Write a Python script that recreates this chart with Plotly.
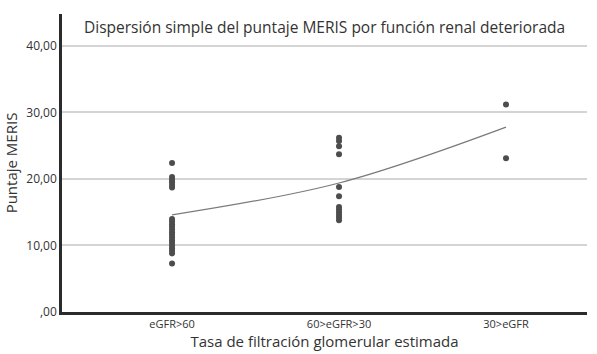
import plotly.graph_objects as go

# Grupos de función renal (eje X categórico)
categorias = ["eGFR>60", "60>eGFR>30", "30>eGFR"]

# Puntaje MERIS por grupo
meris_egfr_mayor60 = [22.4, 20.3, 19.9, 19.5, 19.1, 18.7,
                      14.0, 13.6, 13.2, 12.8, 12.4, 12.0, 11.6, 11.2,
                      10.8, 10.4, 10.0, 9.6, 9.2, 8.8, 7.3]
meris_egfr_60_30 = [26.2, 25.7, 24.9, 23.7, 18.8, 17.4,
                    15.8, 15.4, 15.0, 14.6, 14.2, 13.8]
meris_egfr_menor30 = [31.2, 23.1]

# Curva de ajuste evaluada en cada grupo
ajuste = [14.6, 19.4, 27.8]

yticks = [0, 10, 20, 30, 40]
ytick_labels = [",00", "10,00", "20,00", "30,00", "40,00"]

FONT = "Open Sans"
grupos = [meris_egfr_mayor60, meris_egfr_60_30, meris_egfr_menor30]

fig = go.Figure()
for i, vals in enumerate(grupos):
    fig.add_trace(go.Scatter(
        x=[i] * len(vals), y=vals, mode="markers",
        marker=dict(size=6, color="#4d4d4d"),
        showlegend=False, hoverinfo="y"))

fig.add_trace(go.Scatter(
    x=[0, 1, 2], y=ajuste, mode="lines",
    line=dict(color="#7a7a7a", width=1.2, shape="spline"),
    showlegend=False, hoverinfo="skip"))

fig.update_layout(
    width=597, height=354,
    margin=dict(l=62, r=10, t=14, b=42),
    paper_bgcolor="white", plot_bgcolor="white",
    font=dict(family=FONT, color="#333333"),
    xaxis=dict(
        range=[-0.659, 2.485],
        tickmode="array", tickvals=[0, 1, 2], ticktext=categorias,
        tickfont=dict(size=11, color="#333333"),
        showgrid=False, zeroline=False,
        showline=True, linecolor="#2b2b2b", linewidth=2.5,
        ticks="", ticklen=0,
        title=dict(text="Tasa de filtración glomerular estimada",
                   font=dict(size=15, color="#333333"), standoff=3),
    ),
    yaxis=dict(
        range=[0, 44.8],
        tickmode="array", tickvals=yticks, ticktext=ytick_labels,
        tickfont=dict(size=12, color="#333333"),
        showgrid=True, gridcolor="#d4d4d4", gridwidth=1.5,
        zeroline=False,
        showline=True, linecolor="#2b2b2b", linewidth=2.5,
        ticks="", ticklen=0,
        title=dict(text="Puntaje MERIS",
                   font=dict(size=15, color="#333333"), standoff=6),
    ),
    annotations=[dict(
        text="Dispersión simple del puntaje MERIS por función renal deteriorada",
        xref="paper", yref="paper", x=0.5, y=1.0,
        xanchor="center", yanchor="top", yshift=0,
        showarrow=False, font=dict(size=15.5, color="#333333", family=FONT))],
)

fig.write_html("out.html")
